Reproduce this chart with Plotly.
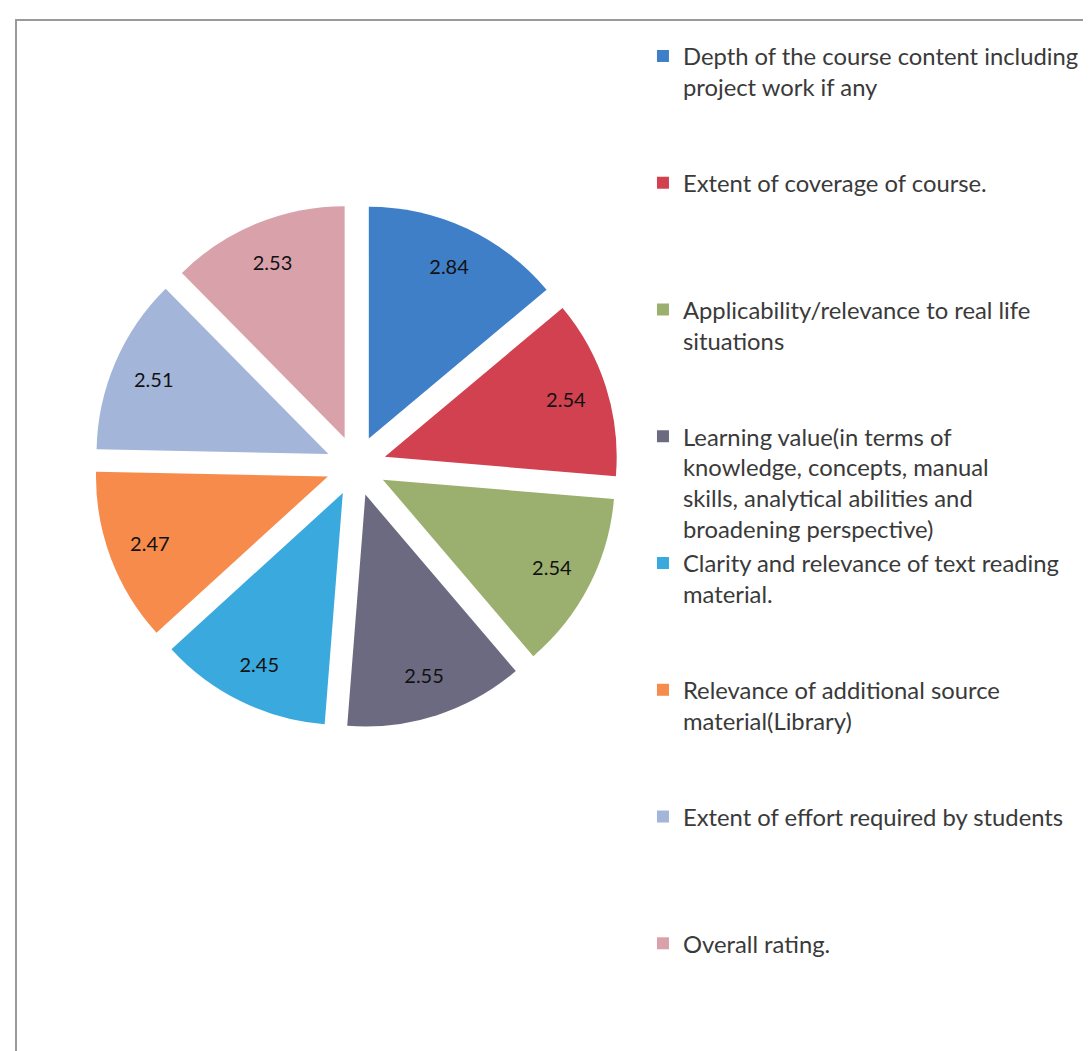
import plotly.graph_objects as go

# course feedback ratings
categories = [
    "Depth of the course content including<br>project work if any",
    "Extent of coverage of course.",
    "Applicability/relevance to real life<br>situations",
    "Learning value(in terms of<br>knowledge, concepts, manual<br>skills, analytical abilities and<br>broadening perspective)",
    "Clarity and relevance of text reading<br>material.",
    "Relevance of additional source<br>material(Library)",
    "Extent of effort required by students",
    "Overall rating.",
]
ratings = [2.84, 2.54, 2.54, 2.55, 2.45, 2.47, 2.51, 2.53]
colors = ["#3f7fc8", "#d2414f", "#9bb06e", "#6c6a80",
          "#3aa9de", "#f68b4b", "#a3b5d8", "#d9a2ab"]

# pad every legend entry to the same number of lines so they spread out like the original
n_lines = 4
legend_labels = []
for c in categories:
    used = c.count("<br>") + 1
    legend_labels.append(c + "<br> " * (n_lines - used))

pie_domain = dict(x=[0.0789, 0.5592], y=[0.3150, 0.8136])
pull = 0.13

fig = go.Figure()

# the slices
fig.add_trace(go.Pie(
    labels=legend_labels,
    values=ratings,
    textinfo="none",
    marker=dict(colors=colors, line=dict(width=0)),
    pull=pull,
    sort=False,
    direction="clockwise",
    rotation=0,
    hoverinfo="label+value",
    domain=pie_domain,
))

# transparent ring on top, only used to put the value labels further out
fig.add_trace(go.Pie(
    labels=legend_labels,
    values=ratings,
    text=[f"{r:.2f}" for r in ratings],
    textinfo="text",
    textposition="inside",
    insidetextorientation="horizontal",
    insidetextfont=dict(color="#111111", size=20, family="Lato"),
    marker=dict(colors=["rgba(0,0,0,0)"] * len(ratings), line=dict(width=0)),
    hole=0.64,
    pull=pull,
    sort=False,
    direction="clockwise",
    rotation=0,
    hoverinfo="skip",
    showlegend=False,
    domain=pie_domain,
))

fig.update_layout(
    width=1091, height=1051,
    margin=dict(l=0, r=0, t=0, b=0),
    paper_bgcolor="white",
    showlegend=True,
    legend=dict(
        x=0.582, y=0.965, xanchor="left", yanchor="top",
        valign="top",
        font=dict(family="Lato", size=23.8, color="#3a3a3a"),
        itemwidth=30,
        bgcolor="rgba(0,0,0,0)",
    ),
    shapes=[dict(type="rect", xref="paper", yref="paper",
                 x0=8/1091, x1=1089/1091, y0=1-1048/1051, y1=1-12/1051,
                 line=dict(color="#9a9a9a", width=2))],
)

fig.write_html("out.html")
